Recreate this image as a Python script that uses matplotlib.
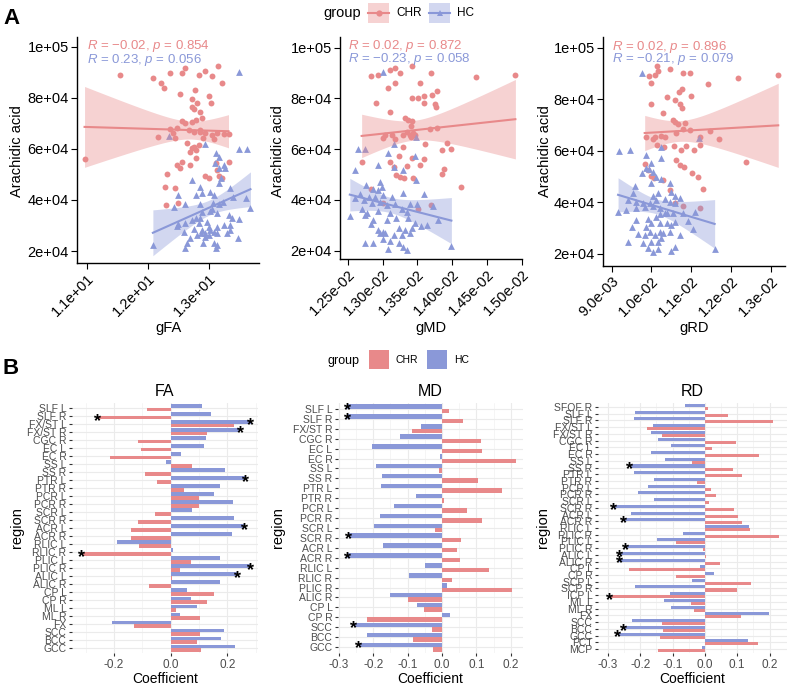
import numpy as np
import matplotlib
matplotlib.use("Agg")
import matplotlib.pyplot as plt
from matplotlib.patches import Rectangle
from matplotlib.transforms import offset_copy

plt.rcParams['font.family'] = ['Liberation Sans', 'DejaVu Sans']
plt.rcParams['mathtext.fontset'] = 'custom'
plt.rcParams['mathtext.it'] = 'Liberation Sans:italic'
plt.rcParams['mathtext.rm'] = 'Liberation Sans'

CHR_COL = '#E8898A'
HC_COL = '#8A98D8'

# ---------------- Panel A data (y in thousands) ----------------
gfa_chr_x = [11.54,12.09,12.36,12.55,12.60,12.83,12.93,13.05,13.15,13.21,
             12.22,12.27,12.52,12.77,13.00,12.72,12.80,13.04,12.72,12.75,
             12.85,12.79,12.89,12.72,12.56,12.61,12.48,12.36,12.41,12.67,
             12.75,12.86,12.94,13.05,13.13,13.24,13.32,12.16,12.45,12.91,
             13.09,12.64,12.75,12.83,12.72,12.78,12.69,12.79,13.32,12.56,
             12.48,12.53,12.69,13.12,13.13,12.31,12.94,13.00,13.16,13.21,
             12.28,12.45,12.30,12.49,10.96,12.85]
gfa_chr_y = [89.0,88.0,89.9,89.9,91.6,89.0,90.6,88.6,92.5,86.0,
             85.7,83.8,81.4,83.1,80.8,79.5,77.9,78.2,76.6,75.5,
             74.6,71.4,72.0,70.7,71.0,70.0,68.1,67.8,66.1,67.4,
             66.8,67.4,66.1,65.5,66.1,65.9,65.9,64.6,64.2,64.2,
             63.8,62.2,60.9,61.5,60.2,59.6,58.9,56.3,55.0,55.0,
             53.7,52.4,53.7,54.4,51.7,50.0,49.4,48.7,49.4,48.5,
             45.2,44.6,38.0,39.0,56.1,66.8]
gfa_hc_x = [13.49,12.34,12.94,13.50,13.62,13.12,13.16,13.10,13.24,13.16,
            13.27,13.19,13.16,12.72,12.50,12.78,12.85,12.89,13.01,13.08,
            13.35,13.40,13.60,13.68,12.42,12.61,12.86,13.07,13.16,13.23,
            12.89,13.01,13.05,13.13,13.32,13.38,13.50,12.50,12.61,12.72,
            12.78,12.86,12.83,12.97,13.00,13.13,13.24,13.35,12.59,12.48,
            12.75,12.89,12.94,13.02,13.08,13.00,12.94,12.87,13.13,13.30,
            13.35,12.69,12.80,13.47,12.08,12.64,12.91,13.08,12.60,13.12,
            13.13]
gfa_hc_y = [90.3,65.1,61.8,59.9,59.9,58.3,57.0,54.4,53.7,52.4,
            52.4,48.5,46.5,47.8,42.0,42.0,45.0,42.6,43.2,42.0,
            44.6,41.3,40.6,36.7,37.4,38.4,38.4,38.9,38.4,39.3,
            35.4,35.8,36.3,34.8,34.1,32.8,32.4,30.6,30.8,32.1,
            32.8,32.8,30.8,31.5,29.3,29.5,30.2,30.2,27.6,29.8,
            28.5,28.2,27.2,28.2,27.6,26.3,25.6,26.9,26.9,27.2,
            28.2,25.0,26.3,25.0,22.3,23.0,23.3,23.0,21.0,21.0,
            22.3]

# gMD x in units of 1e-3
gmd_chr_x = [12.83,12.93,13.11,13.18,13.25,13.43,13.18,13.08,13.54,13.70,
             12.91,13.11,13.43,13.51,13.60,13.60,13.71,13.79,13.75,13.77,
             14.34,14.91,13.32,13.37,13.43,13.41,13.35,13.68,13.78,13.03,
             13.01,13.13,13.18,13.29,13.40,13.44,13.41,13.47,13.30,13.61,
             13.92,13.85,13.99,12.70,13.11,13.24,13.42,13.60,13.54,13.35,
             13.16,13.88,13.85,13.20,13.25,13.31,13.44,12.84,13.00,13.51,
             13.69,14.13]
gmd_chr_y = [88.9,89.3,91.0,91.9,90.2,92.8,86.2,84.0,86.0,90.2,
             78.3,74.8,80.1,80.1,81.0,78.1,81.4,83.1,77.8,76.8,
             88.3,89.3,72.2,71.3,70.9,69.2,66.9,68.0,68.2,65.6,
             64.3,65.6,63.9,65.6,65.6,66.3,64.7,65.6,61.0,62.1,
             62.6,59.7,60.1,55.1,55.1,57.1,56.4,56.0,53.8,53.4,
             52.9,52.1,50.3,49.9,49.2,48.5,48.8,44.2,38.7,36.3,
             38.0,44.9]
gmd_hc_x = [13.01,12.65,12.75,13.48,13.16,13.08,13.47,12.93,13.17,13.29,
            13.48,12.61,12.76,12.97,12.99,12.87,12.94,12.68,12.80,12.89,
            13.01,13.13,13.30,13.59,12.61,12.73,12.85,12.97,13.06,13.18,
            13.40,13.49,13.73,12.70,12.77,12.94,13.11,13.28,13.35,12.53,
            12.75,12.87,13.06,13.20,13.37,13.47,13.56,13.64,13.80,12.84,
            12.94,13.00,13.24,13.32,13.42,13.04,12.97,13.16,13.28,13.40,
            12.75,13.01,12.87,13.11,13.24,13.30,13.08,13.35,13.99]
gmd_hc_y = [90.6,60.0,60.0,64.7,61.9,58.4,57.1,53.8,53.1,51.8,
            47.9,51.8,45.9,47.2,45.0,44.2,43.9,42.4,41.3,41.3,
            42.0,41.3,42.9,42.4,40.7,40.0,38.7,39.3,38.0,38.4,
            38.4,38.4,37.4,36.3,35.0,35.8,35.0,36.3,35.4,33.5,
            34.1,32.1,31.9,32.8,32.8,30.8,29.8,30.2,32.1,30.6,
            28.2,27.5,28.9,28.2,28.9,26.9,27.1,26.2,26.2,26.9,
            23.2,24.5,22.9,23.6,22.9,21.6,20.6,20.3,21.9]

# gRD x in units of 1e-3
grd_chr_x = [9.94,10.00,10.08,10.17,10.14,10.46,10.80,10.98,11.42,12.18,
             13.19,10.69,10.78,11.00,10.38,10.59,9.98,10.71,10.78,10.29,
             10.53,10.59,10.67,10.84,9.87,10.04,10.08,10.25,10.33,10.61,
             10.80,10.96,11.21,11.48,11.70,10.14,10.31,10.57,10.88,11.23,
             10.74,11.07,10.61,10.71,10.82,9.83,9.91,10.00,10.06,10.28,
             11.03,11.17,11.30,12.37,10.46,10.59,10.80,11.21]
grd_chr_y = [88.8,86.2,89.4,91.1,92.9,91.6,90.0,90.0,85.9,88.1,
             89.4,82.9,83.8,81.3,80.7,79.7,78.1,78.1,76.5,74.5,
             71.9,71.3,70.4,70.9,65.2,64.4,65.2,65.7,65.2,67.0,
             68.3,68.1,65.2,67.8,64.4,62.3,61.6,61.9,61.9,62.3,
             60.1,60.1,56.4,54.5,53.6,54.9,52.6,50.2,49.3,48.7,
             51.5,49.7,45.0,55.8,44.8,39.6,38.6,37.7]
grd_hc_x = [9.75,9.18,9.45,10.25,11.20,9.87,10.25,10.00,9.86,9.94,
            9.77,10.04,10.12,10.25,10.00,9.58,10.46,9.54,10.04,10.17,
            10.50,10.33,10.59,10.71,9.41,9.62,9.79,9.96,10.12,10.46,
            10.59,9.16,9.37,9.62,9.83,10.04,10.21,10.38,10.80,11.09,
            9.62,9.91,10.12,10.21,10.33,10.54,10.59,10.92,9.50,9.87,
            10.00,10.21,10.38,10.50,11.05,9.66,9.83,9.96,10.08,10.21,
            10.29,10.46,10.71,9.41,9.79,10.00,10.17,9.91,10.04,10.17,
            10.50,10.59,11.59,10.25]
grd_hc_y = [90.3,60.0,60.3,61.6,64.8,58.4,57.1,55.4,53.2,52.8,
            51.5,51.9,50.0,48.9,47.4,46.3,47.6,43.8,42.5,43.5,
            44.1,41.2,42.5,41.6,40.9,40.3,39.9,39.6,40.7,40.3,
            39.6,36.4,37.0,37.7,38.3,38.6,37.7,35.7,35.7,36.4,
            33.2,33.4,34.4,35.5,35.7,35.7,32.5,32.9,30.6,30.6,
            31.9,31.9,31.9,31.2,29.5,27.7,27.3,28.6,27.3,28.6,
            28.0,28.6,27.3,24.8,24.1,24.8,24.8,22.2,20.9,21.8,
            21.3,22.8,21.8,26.0]

cor_text = {
    'gFA': ("$R$ = \u22120.02, $p$ = 0.854", "$R$ = 0.23, $p$ = 0.056"),
    'gMD': ("$R$ = 0.02, $p$ = 0.872", "$R$ = \u22120.23, $p$ = 0.058"),
    'gRD': ("$R$ = 0.02, $p$ = 0.896", "$R$ = \u22120.21, $p$ = 0.079"),
}

gfa_ticks = [11, 12, 13]
gmd_ticks = [0.0125, 0.0130, 0.0135, 0.0140, 0.0145, 0.0150]
grd_ticks = [0.009, 0.010, 0.011, 0.012, 0.013]
y_ticks = [2e4, 4e4, 6e4, 8e4, 1e5]

# ---------------- Panel B data ----------------
fa_regions = ["SLF L","SLF R","FX/ST L","FX/ST R","CGC R","EC L","EC R","SS L","SS R",
              "PTR L","PTR R","PCR L","PCR R","SCR L","SCR R","ACR L","ACR R","RLIC L",
              "RLIC R","PLIC L","PLIC R","ALIC L","ALIC R","CP L","CP R","ML L","ML R",
              "FX","SCC","BCC","GCC"]
fa_hc = [0.109,0.142,0.282,0.245,0.125,0.118,0.035,-0.018,0.190,0.265,0.174,0.154,0.221,
         0.074,0.225,0.262,0.215,-0.188,0.009,0.175,0.282,0.235,0.175,0.058,0.071,0.092,
         0.034,-0.207,0.188,0.178,0.226]
fa_chr = [-0.085,-0.258,0.225,0.127,-0.114,-0.106,-0.214,0.076,-0.091,-0.047,0.048,0.100,
          0.101,-0.055,-0.116,-0.140,-0.140,-0.111,-0.314,0.073,0.032,0.005,-0.076,0.152,
          0.127,0.019,0.104,-0.128,0.103,0.092,0.107]
fa_star_hc = ["FX/ST L","FX/ST R","PTR L","ACR L","PLIC R","ALIC L"]
fa_star_chr = ["SLF R","RLIC R"]

md_regions = ["SLF L","SLF R","FX/ST R","CGC R","EC L","EC R","SS L","SS R","PTR L",
              "PTR R","PCR L","PCR R","SCR L","SCR R","ACR L","ACR R","RLIC L","RLIC R",
              "PLIC R","ALIC R","CP L","CP R","SCC","BCC","GCC"]
md_hc = [-0.275,-0.275,-0.061,-0.122,-0.204,-0.007,-0.192,-0.173,-0.178,-0.076,-0.139,
         -0.179,-0.197,-0.271,-0.170,-0.275,-0.050,-0.096,0.013,-0.150,-0.072,0.022,
         -0.257,-0.218,-0.242]
md_chr = [0.020,0.062,-0.087,0.113,0.115,0.215,-0.009,0.105,0.174,0.006,0.071,0.117,
          -0.021,0.056,0.044,0.051,0.136,0.030,0.203,-0.100,-0.053,-0.219,-0.030,
          -0.084,-0.027]
md_star_hc = ["SLF L","SLF R","SCR R","ACR R","SCC","GCC"]
md_star_chr = []

rd_regions = ["SFOF R","SLF L","SLF R","FX/ST L","FX/ST R","CGC R","EC L","EC R","SS L",
              "SS R","PTR L","PTR R","PCR L","PCR R","SCR L","SCR R","ACR L","ACR R",
              "RLIC L","RLIC R","PLIC L","PLIC R","ALIC L","ALIC R","CP L","CP R","SCP L",
              "SCP R","ICP L","ML L","ML R","FX","SCC","BCC","GCC","PCT","MCP"]
rd_hc = [-0.062,-0.216,-0.220,-0.162,-0.168,-0.146,-0.106,-0.167,-0.125,-0.232,-0.220,
         -0.159,-0.177,-0.207,-0.157,-0.284,-0.229,-0.253,0.135,-0.069,-0.147,-0.247,
         -0.263,-0.266,-0.015,0.028,-0.039,-0.215,-0.108,-0.127,-0.104,0.199,-0.225,
         -0.252,-0.270,0.132,-0.010]
rd_chr = [0.008,0.072,0.211,-0.178,-0.132,0.096,0.021,0.167,-0.041,0.086,0.114,-0.024,
          0.018,0.033,0.012,0.090,0.101,0.116,0.139,0.230,-0.090,-0.007,0.002,0.046,
          -0.234,-0.090,0.142,0.100,-0.296,-0.043,-0.035,0.113,-0.132,-0.130,-0.140,
          0.163,-0.146]
rd_star_hc = ["SS R","SCR R","ACR R","PLIC R","ALIC L","ALIC R","BCC","GCC"]
rd_star_chr = ["ICP L"]

# ---------------- figure ----------------
W, H = 790, 684
fig = plt.figure(figsize=(W / 100, H / 100), dpi=100)


def rect(l, t, r, b):
    return [l / W, 1 - b / H, (r - l) / W, (b - t) / H]


def fit_band(x, y):
    n = len(x)
    xm = x.mean()
    b1, b0 = np.polyfit(x, y, 1)
    xs = np.linspace(x.min(), x.max(), 100)
    yh = b0 + b1 * xs
    res = y - (b0 + b1 * x)
    s = np.sqrt((res ** 2).sum() / (n - 2))
    se = s * np.sqrt(1 / n + (xs - xm) ** 2 / ((x - xm) ** 2).sum())
    t = 1.995
    return xs, yh, yh - t * se, yh + t * se


def scatter_panel(box, cx, cy, hx, hy, xlim, ylim, xticks, fmt, texts, tx, ty):
    ax = fig.add_axes(box)
    groups = [(np.array(cx), np.array(cy) * 1e3, CHR_COL, 'o', 18),
              (np.array(hx), np.array(hy) * 1e3, HC_COL, '^', 24)]
    for x, y, col, mk, s in groups:
        ax.scatter(x, y, s=s, marker=mk, color=col, lw=0, zorder=2)
    for x, y, col, mk, s in groups:
        xs, yh, lo, hi = fit_band(x, y)
        ax.fill_between(xs, lo, hi, color=col, alpha=0.38, lw=0, zorder=3)
        ax.plot(xs, yh, color=col, lw=1.5, zorder=4)
    ax.set_xlim(*xlim)
    ax.set_ylim(*ylim)
    ax.set_xticks(xticks)
    ax.set_xticklabels([fmt.format(v) for v in xticks], rotation=45, ha='right',
                       va='top', rotation_mode='anchor', fontsize=10.5)
    ax.set_yticks(y_ticks)
    ax.set_yticklabels(["{:.0e}".format(v) for v in y_ticks], fontsize=10.5)
    for sp in ['top', 'right']:
        ax.spines[sp].set_visible(False)
    for sp in ['left', 'bottom']:
        ax.spines[sp].set_linewidth(1.0)
    ax.tick_params(direction='out', length=4, width=0.8, colors='black', pad=2)
    ax.text(tx, ty[0], texts[0], transform=ax.transAxes, color=CHR_COL, fontsize=9.5,
            va='center', ha='left')
    ax.text(tx, ty[1], texts[1], transform=ax.transAxes, color=HC_COL, fontsize=9.5,
            va='center', ha='left')
    return ax


scatter_panel(rect(77, 37, 259, 263), gfa_chr_x, gfa_chr_y, gfa_hc_x, gfa_hc_y,
              (10.836, 13.82), (15300, 103900), gfa_ticks, "{:.1e}",
              cor_text['gFA'], 0.055, (0.958, 0.900))
scatter_panel(rect(340, 37, 522, 259),
              np.array(gmd_chr_x) * 1e-3, gmd_chr_y, np.array(gmd_hc_x) * 1e-3, gmd_hc_y,
              (0.012389, 0.015005), (16700, 104200), gmd_ticks, "{:.2e}",
              cor_text['gMD'], 0.044, (0.958, 0.899))
scatter_panel(rect(603, 37, 785, 266),
              np.array(grd_chr_x) * 1e-3, grd_chr_y, np.array(grd_hc_x) * 1e-3, grd_hc_y,
              (0.008781, 0.01336), (15300, 104100), grd_ticks, "{:.1e}",
              cor_text['gRD'], 0.05, (0.955, 0.902))


def bar_panel(l, r, regions, hc, chr_, star_hc, star_chr, xlim, xticks, xminor, title):
    ax = fig.add_axes(rect(l, 403, r, 653))
    n = len(regions)
    pos = np.arange(n)[::-1].astype(float)
    ax.barh(pos + 0.225, hc, height=0.45, color=HC_COL, zorder=2)
    ax.barh(pos - 0.225, chr_, height=0.45, color=CHR_COL, zorder=2)
    star_tr = offset_copy(ax.transData, fig=fig, x=0, y=-4, units='dots')
    for i, reg in enumerate(regions):
        if reg in star_hc:
            ax.text(hc[i], pos[i] + 0.225, '*', ha='center', va='center', fontsize=13,
                    fontweight='bold', color='black', zorder=5, transform=star_tr)
        if reg in star_chr:
            ax.text(chr_[i], pos[i] - 0.225, '*', ha='center', va='center', fontsize=13,
                    fontweight='bold', color='black', zorder=5, transform=star_tr)
    ax.set_ylim(-0.6, n - 0.4)
    ax.set_xlim(*xlim)
    ax.set_yticks(pos)
    ax.set_yticklabels(regions, fontsize=7.5, color='#4D4D4D')
    ax.set_xticks(xticks)
    ax.set_xticklabels(["{:.1f}".format(v) for v in xticks], fontsize=8.5, color='#4D4D4D')
    ax.set_xticks(xminor, minor=True)
    for sp in ax.spines.values():
        sp.set_visible(False)
    ax.set_axisbelow(True)
    ax.grid(True, which='major', color='#EBEBEB', lw=0.8, zorder=0)
    ax.grid(True, which='minor', axis='x', color='#F2F2F2', lw=0.5, zorder=0)
    ax.tick_params(axis='both', which='major', length=2.5, width=0.8, color='#333333', pad=1.5)
    ax.tick_params(axis='x', which='minor', length=0)
    ax.set_title(title, fontsize=11.5, pad=5)
    ax.set_xlabel("Coefficient", fontsize=10, labelpad=1)
    return ax


bar_panel(72, 258, fa_regions, fa_hc, fa_chr, fa_star_hc, fa_star_chr,
          (-0.348, 0.308), [-0.2, 0.0, 0.2], [-0.3, -0.1, 0.1, 0.3], "FA")
bar_panel(338, 523, md_regions, md_hc, md_chr, md_star_hc, md_star_chr,
          (-0.302, 0.235), [-0.3, -0.2, -0.1, 0.0, 0.1, 0.2],
          [-0.25, -0.15, -0.05, 0.05, 0.15], "MD")
bar_panel(598, 787, rd_regions, rd_hc, rd_chr, rd_star_hc, rd_star_chr,
          (-0.331, 0.254), [-0.3, -0.2, -0.1, 0.0, 0.1, 0.2],
          [-0.25, -0.15, -0.05, 0.05, 0.15], "RD")

# ---------------- overlay: labels and legends ----------------
ov = fig.add_axes([0, 0, 1, 1])
ov.set_xlim(0, W)
ov.set_ylim(H, 0)
ov.axis('off')

ov.text(3, 18, 'A', fontsize=16, fontweight='bold', va='center', ha='left')
ov.text(3, 369, 'B', fontsize=16, fontweight='bold', va='center', ha='left')

for xc in (17, 278, 545):
    ov.text(xc, 151, 'Arachidic acid', rotation=90, fontsize=10.5, va='center', ha='center')
for xc, lab in ((168, 'gFA'), (431, 'gMD'), (694, 'gRD')):
    ov.text(xc, 328, lab, fontsize=10.5, va='center', ha='center')
for xc in (17, 278, 543):
    ov.text(xc, 528, 'region', rotation=90, fontsize=10.5, va='center', ha='center')

# legend A
ov.text(323, 13, 'group', fontsize=10.5, va='center', ha='left')
for x0, col, mk, lab in ((368, CHR_COL, 'o', 'CHR'), (429, HC_COL, '^', 'HC')):
    ov.add_patch(Rectangle((x0, 3), 21, 20, facecolor=col, alpha=0.38, lw=0))
    ov.plot([x0, x0 + 21], [13, 13], color=col, lw=1.5)
    ov.plot([x0 + 10.5], [13], marker=mk, ms=4.5, color=col, mew=0)
    ov.text(x0 + 28, 13, lab, fontsize=8.5, va='center', ha='left')

# legend B
ov.text(328, 361, 'group', fontsize=9, va='center', ha='left')
for x0, col, lab in ((369, CHR_COL, 'CHR'), (427, HC_COL, 'HC')):
    ov.add_patch(Rectangle((x0, 350), 20, 19, facecolor=col, lw=0))
    ov.text(x0 + 27, 360, lab, fontsize=7.5, va='center', ha='left')

fig.savefig('out.png', dpi=100)
